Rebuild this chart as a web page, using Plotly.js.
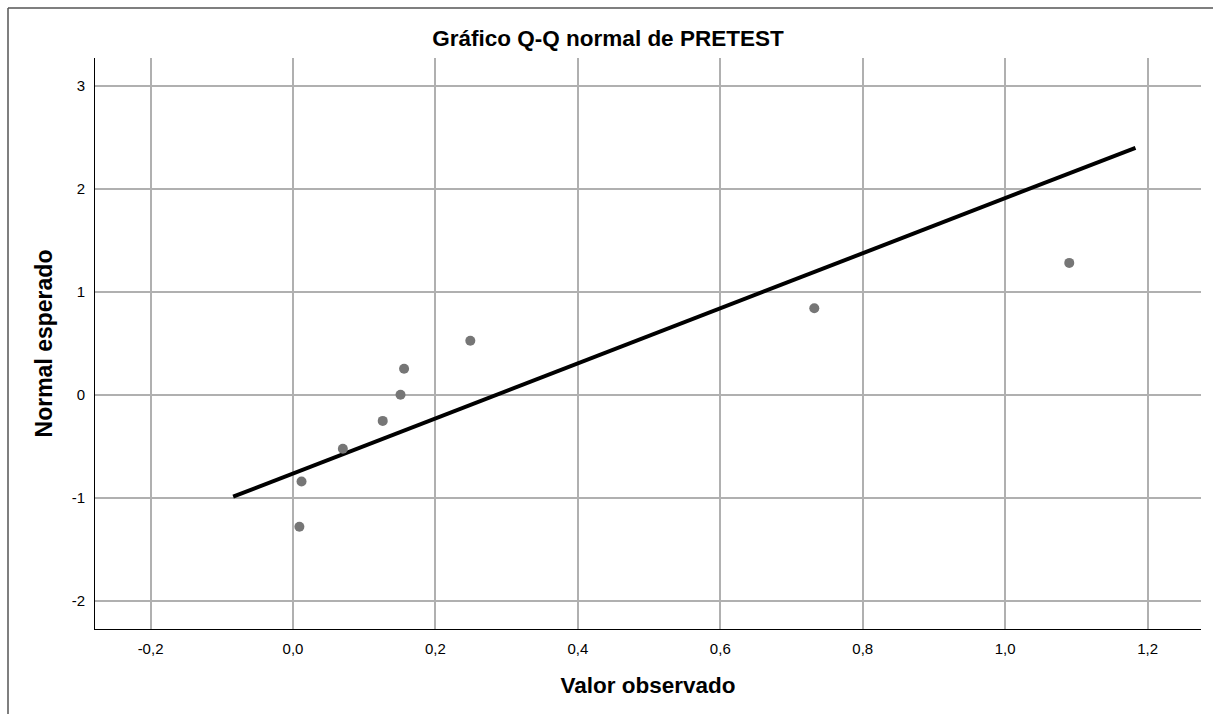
<!DOCTYPE html>
<html>
<head>
<meta charset="utf-8">
<script src="https://cdn.plot.ly/plotly-3.0.1.min.js"></script>
<style>
html, body { margin: 0; padding: 0; background: #fff; }
#chart { width: 1213px; height: 714px; }
</style>
</head>
<body>
<div id="chart"></div>
<script>
// Observed values (PRETEST) and expected normal quantiles
const observed = [0.009, 0.012, 0.070, 0.126, 0.151, 0.156, 0.249, 0.732, 1.090];
const expectedNormal = [-1.2816, -0.8416, -0.5244, -0.2533, 0.0, 0.2533, 0.5244, 0.8416, 1.2816];

// Reference line endpoints
const lineX = [-0.084, 1.183];
const lineY = [-0.99, 2.40];

// Tick labels
const xTickVals = [-0.2, 0.0, 0.2, 0.4, 0.6, 0.8, 1.0, 1.2];
const xTickText = ['-0,2', '0,0', '0,2', '0,4', '0,6', '0,8', '1,0', '1,2'];
const yTickVals = [-2, -1, 0, 1, 2, 3];
const yTickText = ['-2', '-1', '0', '1', '2', '3'];

const FONT = 'Arial, "Liberation Sans", sans-serif';

const traces = [
  {
    x: lineX, y: lineY, type: 'scatter', mode: 'lines',
    line: { color: '#000000', width: 4 },
    hoverinfo: 'skip', showlegend: false
  },
  {
    x: observed, y: expectedNormal, type: 'scatter', mode: 'markers',
    marker: { color: '#767676', size: 10 },
    showlegend: false
  }
];

const layout = {
  width: 1213, height: 714,
  paper_bgcolor: '#ffffff', plot_bgcolor: '#ffffff',
  margin: { l: 95, r: 12, t: 58, b: 85, pad: 0 },
  font: { family: FONT, color: '#000000', size: 15 },
  showlegend: false,
  title: {
    text: '<b>Gráfico Q-Q normal de PRETEST</b>',
    font: { family: FONT, size: 22.5, color: '#000000' },
    x: (608) / 1213, xref: 'container', xanchor: 'center',
    y: 1 - 38 / 714, yref: 'container', yanchor: 'middle'
  },
  xaxis: {
    range: [-0.278, 1.275],
    tickvals: xTickVals, ticktext: xTickText,
    showgrid: true, gridcolor: '#b0b0b0', gridwidth: 2,
    zeroline: false,
    showline: true, linecolor: '#000000', linewidth: 1,
    ticks: '', ticklen: 0, ticklabelstandoff: 6,
    tickfont: { family: FONT, size: 15, color: '#000000' },
    title: {
      text: '<b>Valor observado</b>',
      font: { family: FONT, size: 22.5, color: '#000000' },
      standoff: 21
    }
  },
  yaxis: {
    range: [-2.275, 3.272],
    tickvals: yTickVals, ticktext: yTickText,
    showgrid: true, gridcolor: '#b0b0b0', gridwidth: 2,
    zeroline: false,
    showline: true, linecolor: '#000000', linewidth: 1,
    ticks: '', ticklen: 0, ticklabelstandoff: 6,
    tickfont: { family: FONT, size: 15, color: '#000000' },
    title: {
      text: '<b>Normal esperado</b>',
      font: { family: FONT, size: 23, color: '#000000' },
      standoff: 12
    }
  },
  shapes: [
    { type: 'line', xref: 'paper', yref: 'paper',
      x0: -87 / 1106, x1: 1.2, y0: 1 + 50 / 571, y1: 1 + 50 / 571,
      line: { color: '#555555', width: 1.5 } },
    { type: 'line', xref: 'paper', yref: 'paper',
      x0: -87 / 1106, x1: -87 / 1106, y0: 1 + 50 / 571, y1: -0.3,
      line: { color: '#555555', width: 1.5 } }
  ]
};

Plotly.newPlot('chart', traces, layout, { displayModeBar: false, staticPlot: true });
</script>
</body>
</html>
